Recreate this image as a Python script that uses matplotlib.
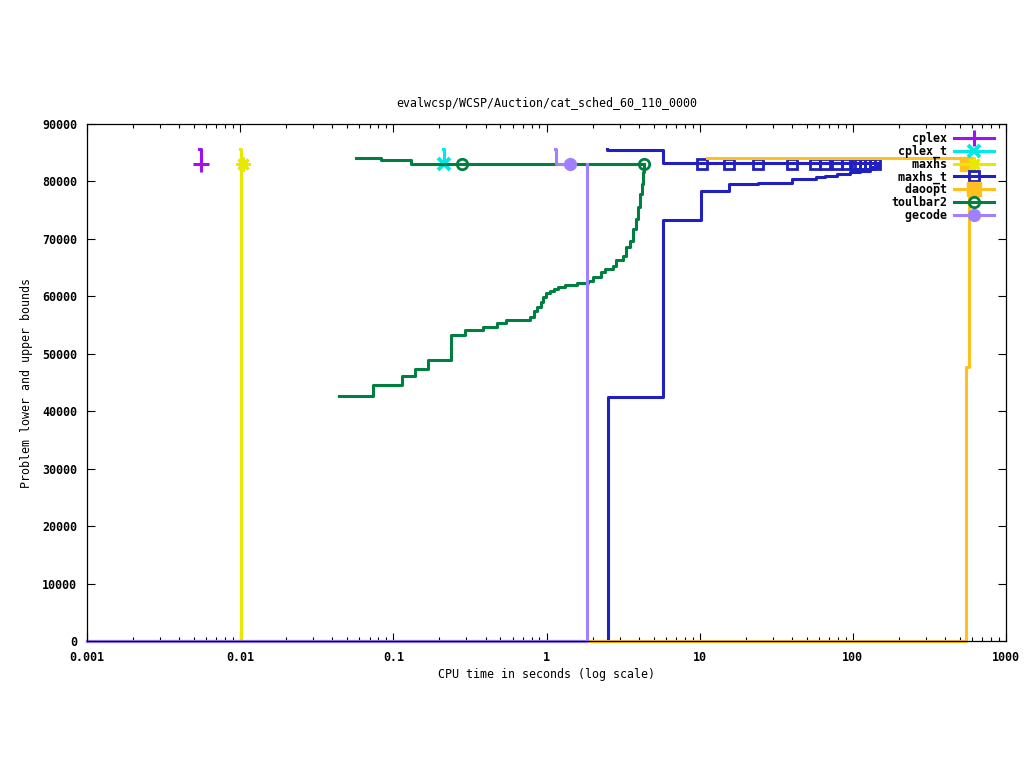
import matplotlib
matplotlib.use('Agg')
import matplotlib.pyplot as plt
from matplotlib.lines import Line2D
from matplotlib.ticker import LogLocator, FixedLocator, NullFormatter, FixedFormatter

plt.rcParams['font.family'] = ['DejaVu Sans Mono']
plt.rcParams['font.weight'] = 'bold'
plt.rcParams['font.size'] = 8.4

title = 'evalwcsp/WCSP/Auction/cat_sched_60_110_0000'
x_label = 'CPU time in seconds (log scale)'
y_label = 'Problem lower and upper bounds'

x_ticks = [0.001, 0.01, 0.1, 1, 10, 100, 1000]
x_tick_labels = ['0.001', '0.01', '0.1', '1', '10', '100', '1000']
y_ticks = [0, 10000, 20000, 30000, 40000, 50000, 60000, 70000, 80000, 90000]

# cplex
cplex_ub_t = [0.00535, 0.00551]
cplex_ub_v = [85700, 83100]
cplex_pt_t = [0.00551]
cplex_pt_v = [83100]

# cplex_t
cplex_t_ub_t = [0.2125, 0.215]
cplex_t_ub_v = [85700, 83100]
cplex_t_pt_t = [0.215]
cplex_t_pt_v = [83100]

# maxhs
maxhs_lb_t = [0.001, 0.0102]
maxhs_lb_v = [0, 83100]
maxhs_ub_t = [0.0100, 0.0102]
maxhs_ub_v = [85700, 83100]
maxhs_pt_t = [0.0104]
maxhs_pt_v = [83100]

# maxhs_t
maxhs_t_lb_t = [0.001, 2.53, 5.79, 10.2, 15.6, 24.2, 40.0, 57.5, 65.8, 78.5, 95.8, 112, 129, 145]
maxhs_t_lb_v = [0, 42500, 73300, 78400, 79600, 79800, 80500, 80750, 80900, 81350, 81600, 81900, 82600, 83100]
maxhs_t_ub_t = [2.48, 2.50, 5.79, 145]
maxhs_t_ub_v = [85700, 85400, 83200, 83200]
maxhs_t_pt_t = [10.3, 15.6, 24.2, 40.3, 56.6, 65.8, 78.5, 91.2, 103, 111, 120, 129, 140]
maxhs_t_pt_v = [83100] * 13

# daoopt
daoopt_lb_t = [0.001, 548, 576]
daoopt_lb_v = [0, 47700, 84000]
daoopt_ub_t = [11.2, 576]
daoopt_ub_v = [84000, 84000]
daoopt_pt_t = [556]
daoopt_pt_v = [83100]

# toulbar2
toulbar2_lb_t = [0.0442, 0.0740, 0.114, 0.139, 0.169, 0.239, 0.295, 0.387, 0.477, 0.544,
                 0.780, 0.828, 0.863, 0.916, 0.953, 0.993, 1.054, 1.119, 1.194, 1.321,
                 1.574, 1.875, 2.02, 2.26, 2.41, 2.70, 2.84, 3.17, 3.30, 3.51,
                 3.69, 3.84, 3.97, 4.08, 4.18, 4.26, 4.31, 4.33]
toulbar2_lb_v = [42700, 44500, 46200, 47400, 48900, 53200, 54100, 54600, 55400, 55800,
                 56400, 57400, 58100, 59000, 59900, 60500, 61000, 61300, 61700, 62000,
                 62400, 62700, 63300, 64200, 64800, 65200, 66300, 67000, 68600, 69700,
                 71800, 73500, 75500, 77900, 79600, 81600, 82800, 83100]
toulbar2_ub_t = [0.057, 0.0826, 0.130, 4.33]
toulbar2_ub_v = [84000, 83700, 83100, 83100]
toulbar2_pt_t = [0.281, 4.33]
toulbar2_pt_v = [83100, 83100]

# gecode
gecode_lb_t = [0.001, 1.85]
gecode_lb_v = [0, 83100]
gecode_ub_t = [1.14, 1.16, 1.42]
gecode_ub_v = [85700, 83100, 83100]
gecode_pt_t = [1.42]
gecode_pt_v = [83100]

series = [
    ('cplex', '#a010f0', dict(marker='+', markersize=12, markeredgewidth=2.2),
     None, (cplex_ub_t, cplex_ub_v), (cplex_pt_t, cplex_pt_v)),
    ('cplex_t', '#00e8e8', dict(marker='x', markersize=9, markeredgewidth=2.8),
     None, (cplex_t_ub_t, cplex_t_ub_v), (cplex_t_pt_t, cplex_t_pt_v)),
    ('maxhs', '#e8e800', dict(marker=(8, 2, 0), markersize=10, markeredgewidth=2.2),
     (maxhs_lb_t, maxhs_lb_v), (maxhs_ub_t, maxhs_ub_v), (maxhs_pt_t, maxhs_pt_v)),
    ('maxhs_t', '#2020c0', dict(marker='s', markersize=7.5, markeredgewidth=2, markerfacecolor='none'),
     (maxhs_t_lb_t, maxhs_t_lb_v), (maxhs_t_ub_t, maxhs_t_ub_v), (maxhs_t_pt_t, maxhs_t_pt_v)),
    ('daoopt', '#ffc020', dict(marker='s', markersize=10),
     (daoopt_lb_t, daoopt_lb_v), (daoopt_ub_t, daoopt_ub_v), (daoopt_pt_t, daoopt_pt_v)),
    ('toulbar2', '#008040', dict(marker='o', markersize=7.5, markeredgewidth=2, markerfacecolor='none'),
     (toulbar2_lb_t, toulbar2_lb_v), (toulbar2_ub_t, toulbar2_ub_v), (toulbar2_pt_t, toulbar2_pt_v)),
    ('gecode', '#a080ff', dict(marker='o', markersize=8.5),
     (gecode_lb_t, gecode_lb_v), (gecode_ub_t, gecode_ub_v), (gecode_pt_t, gecode_pt_v)),
]

fig = plt.figure(figsize=(10.24, 7.68), dpi=100)
ax = fig.add_axes([87 / 1024, 127 / 768, 919 / 1024, 517 / 768])

handles = []
for name, color, mk, lb, ub, pts in series:
    for part in (lb, ub):
        if part is not None:
            ax.step(part[0], part[1], where='post', color=color, lw=2.2, clip_on=False)
    ax.plot(pts[0], pts[1], linestyle='none', color=color, clip_on=False, **mk)
    handles.append(Line2D([], [], color=color, lw=2.2, **mk))

ax.set_xscale('log')
ax.set_xlim(0.001, 1000)
ax.set_ylim(0, 90000)
ax.xaxis.set_major_locator(FixedLocator(x_ticks))
ax.xaxis.set_major_formatter(FixedFormatter(x_tick_labels))
ax.xaxis.set_minor_locator(LogLocator(base=10, subs=range(2, 10)))
ax.xaxis.set_minor_formatter(NullFormatter())
ax.set_yticks(y_ticks)
ax.set_yticklabels([str(v) for v in y_ticks])
ax.tick_params(which='both', direction='in', top=True, right=True, width=0.8)
ax.tick_params(which='major', length=6, pad=7)
ax.tick_params(which='minor', length=3)
for s in ax.spines.values():
    s.set_linewidth(0.9)

ax.set_title(title, fontsize=8.4, pad=12.5)
ax.set_xlabel(x_label, labelpad=3)
ax.set_ylabel(y_label, labelpad=7)

width = max(len(s[0]) for s in series)
labels = [s[0].rjust(width) for s in series]
ax.legend(handles, labels, loc='upper right', bbox_to_anchor=(0.987, 0.984),
          frameon=False, markerfirst=False, handlelength=3.4, handletextpad=0.6,
          labelspacing=-0.03, borderpad=0, borderaxespad=0)

fig.savefig('out.png', dpi=100)
